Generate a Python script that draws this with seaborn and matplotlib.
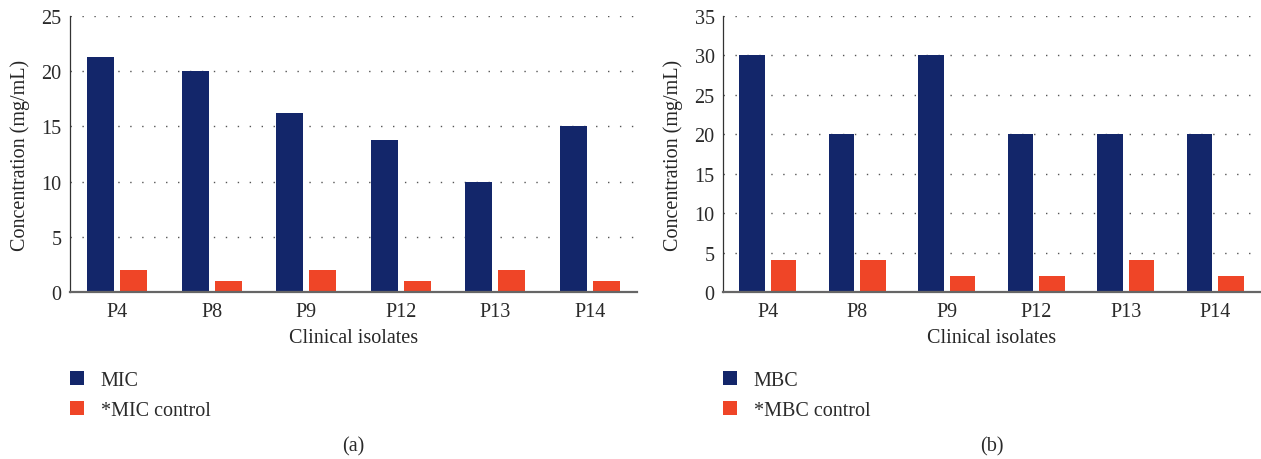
import pandas as pd
import matplotlib
matplotlib.use("Agg")
import matplotlib.pyplot as plt
import seaborn as sns

# values
isolates = ["P4", "P8", "P9", "P12", "P13", "P14"]
mic = [21.25, 20, 16.25, 13.75, 10, 15]
mic_control = [2, 1, 2, 1, 2, 1]
mbc = [30, 20, 30, 20, 20, 20]
mbc_control = [4, 4, 2, 2, 4, 2]

navy = "#13266A"
orange = "#EF4527"
fs = 14.5

sns.set_theme(style="white")
plt.rcParams["font.family"] = ["Liberation Serif", "DejaVu Serif"]
plt.rcParams["text.color"] = "#2a2a2a"


def long_table(main, ctrl, main_name, ctrl_name):
    df = pd.DataFrame({"isolate": isolates * 2,
                       "value": main + ctrl,
                       "series": [main_name] * len(main) + [ctrl_name] * len(ctrl)})
    return df


def draw_panel(ax, df, ymax, caption):
    sns.barplot(data=df, x="isolate", y="value", hue="series",
                palette=[navy, orange], width=0.7, gap=0.18,
                saturation=1, ax=ax, edgecolor="none")
    ax.set_ylim(0, ymax)
    ax.set_xlim(-0.5, 5.5)
    ax.set_yticks(range(0, ymax + 1, 5))
    ax.grid(axis="y", color="#555555", linewidth=1.0, linestyle=(0, (1, 7.6)))
    ax.set_axisbelow(True)
    for side in ["top", "right"]:
        ax.spines[side].set_visible(False)
    ax.spines["left"].set_color("#333333")
    ax.spines["left"].set_linewidth(0.9)
    ax.spines["bottom"].set_color("#666666")
    ax.spines["bottom"].set_linewidth(1.6)
    ax.tick_params(axis="both", length=0, labelsize=fs, colors="#2a2a2a")
    ax.tick_params(axis="y", pad=6)
    ax.tick_params(axis="x", pad=7)
    ax.set_xlabel("Clinical isolates", fontsize=fs, labelpad=5)
    ax.set_ylabel("Concentration (mg/mL)", fontsize=fs, labelpad=8)
    ax.legend(loc="upper left", bbox_to_anchor=(0.0, -0.285), frameon=False,
              fontsize=fs, handlelength=0.68, handleheight=0.68,
              handletextpad=0.85, labelspacing=0.55, borderaxespad=0,
              borderpad=0)
    bb = ax.get_position()
    ax.figure.text(bb.x0 + bb.width / 2, 1 - 447 / 460, caption,
                   ha="center", va="center", fontsize=fs)


fig = plt.figure(figsize=(12.61, 4.60), dpi=100)
ax1 = fig.add_axes([70 / 1261, 167 / 460, 567 / 1261, 276 / 460])
ax2 = fig.add_axes([723 / 1261, 167 / 460, 537 / 1261, 276 / 460])

draw_panel(ax1, long_table(mic, mic_control, "MIC", "*MIC control"), 25, "(a)")
draw_panel(ax2, long_table(mbc, mbc_control, "MBC", "*MBC control"), 35, "(b)")

fig.savefig("out.png", dpi=100, facecolor="white")
